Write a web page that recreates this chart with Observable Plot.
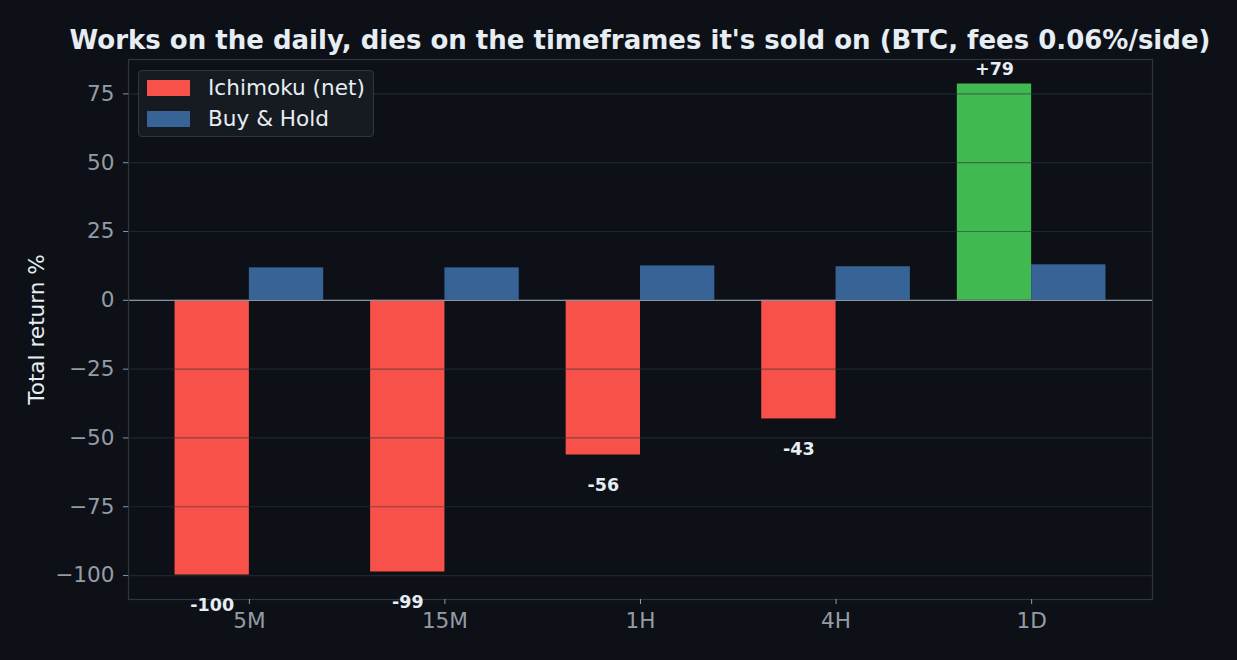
<!DOCTYPE html>
<html>
<head>
<meta charset="utf-8">
<script src="https://cdn.jsdelivr.net/npm/d3@7"></script>
<script src="https://cdn.jsdelivr.net/npm/@observablehq/plot@0.6"></script>
<style>
  html, body { margin: 0; padding: 0; background: #0d1117; }
  #wrap { position: relative; width: 1237px; height: 660px; background: #0d1117; font-family: "DejaVu Sans", sans-serif; overflow: hidden; }
  #title { position: absolute; left: 0; top: 25px; width: 1280px; text-align: center; color: #e6edf3; font-weight: bold; font-size: 26px; white-space: nowrap; line-height: 1.2; }
  #legend { position: absolute; left: 138px; top: 70px; width: 236px; height: 67px; background: #161b22; border: 1px solid #30363d; border-radius: 4px; box-sizing: border-box; }
  .li { position: absolute; left: 8px; display: flex; align-items: center; color: #e6edf3; font-size: 21.6px; line-height: 26px; }
  .sw { width: 43px; height: 16px; margin-right: 18px; }
</style>
</head>
<body>
<div id="wrap">
  <div id="chart"></div>
  <div id="title">Works on the daily, dies on the timeframes it's sold on (BTC, fees 0.06%/side)</div>
  <div id="legend"></div>
</div>
<script>
const categories = ["5M", "15M", "1H", "4H", "1D"];
const ichimoku = [-99.8, -98.7, -56.2, -43.1, 78.6];
const buyHold = [11.8, 11.8, 12.5, 12.2, 12.9];
const yTicks = [-100, -75, -50, -25, 0, 25, 50, 75];
const seriesNames = ["Ichimoku (net)", "Buy & Hold"];

const RED = "#f85149", GREEN = "#3fb950", BLUE = "#376396";
const W = 0.38;

const data = categories.map((c, i) => ({i, cat: c, ich: ichimoku[i], bh: buyHold[i]}));
const fmt = v => (v > 0 ? "+" : "") + Math.round(v);

const chart = Plot.plot({
  width: 1237,
  height: 660,
  marginLeft: 128,
  marginRight: 85,
  marginTop: 59,
  marginBottom: 61,
  style: {background: "#0d1117", color: "#959ca5", fontFamily: "DejaVu Sans, sans-serif", fontSize: "21.6px"},
  x: {type: "linear", domain: [-0.618, 4.618]},
  y: {domain: [-108.7, 87.5]},
  marks: [
    Plot.rect(data, {x1: d => d.i - W, x2: d => d.i, y1: 0, y2: "ich", fill: d => d.ich >= 0 ? GREEN : RED}),
    Plot.rect(data, {x1: d => d.i, x2: d => d.i + W, y1: 0, y2: "bh", fill: BLUE}),
    Plot.ruleY(yTicks, {stroke: "#30363d", strokeOpacity: 0.55, strokeWidth: 1.2}),
    Plot.ruleY([0], {stroke: "#8b949e", strokeWidth: 1.4}),
    Plot.frame({stroke: "#30363d", strokeWidth: 1.2}),
    Plot.axisY({ticks: yTicks, tickSize: 5, tickPadding: 9, label: null, fontSize: 21.6, stroke: "#8b949e"}),
    Plot.axisX({ticks: [0, 1, 2, 3, 4], tickFormat: i => categories[i], tickSize: 5, tickPadding: 8, label: null, fontSize: 21.6}),
    Plot.text(data.filter(d => d.ich < 0), {x: d => d.i - W / 2, y: d => d.ich - 11, text: d => fmt(d.ich), fill: "#e6edf3", fontWeight: "bold", fontSize: 17.5, lineAnchor: "middle"}),
    Plot.text(data.filter(d => d.ich >= 0), {x: d => d.i - W / 2, y: d => d.ich + 5.2, text: d => fmt(d.ich), fill: "#e6edf3", fontWeight: "bold", fontSize: 17.5, lineAnchor: "middle"}),
    Plot.text(["Total return %"], {frameAnchor: "left", rotate: -90, dx: -91, textAnchor: "middle", fill: "#e6edf3", fontSize: 21.6})
  ]
});
document.getElementById("chart").appendChild(chart);

const legend = document.getElementById("legend");
[RED, BLUE].forEach((col, k) => {
  const it = document.createElement("div");
  it.className = "li";
  it.style.top = (k === 0 ? 4 : 35) + "px";
  it.innerHTML = `<span class="sw" style="background:${col}"></span><span></span>`;
  it.lastChild.textContent = seriesNames[k];
  legend.appendChild(it);
});
</script>
</body>
</html>
